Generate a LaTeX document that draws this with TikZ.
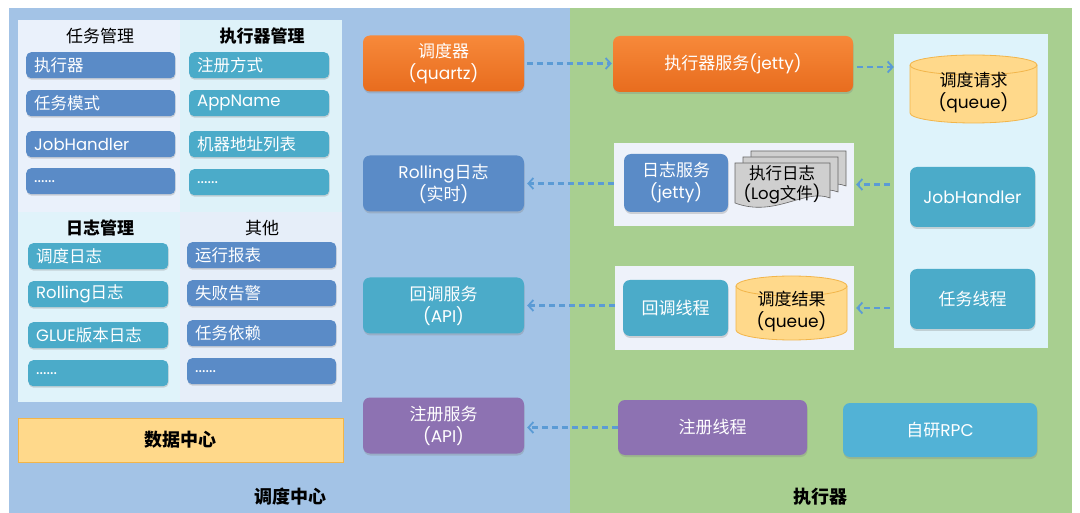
\documentclass[tikz,border=0pt]{standalone}
\usepackage{fontspec}
\setmainfont{Noto Sans CJK SC}
\newfontfamily\latfont{Poppins}
\newcommand\en[1]{{\latfont #1}}
\usetikzlibrary{arrows.meta,shadows}
\definecolor{panelblue}{HTML}{A3C3E6}
\definecolor{panelgreen}{HTML}{A8CF90}
\definecolor{qtl}{HTML}{EAF1FB}
\definecolor{qtr}{HTML}{DEF2F9}
\definecolor{qbl}{HTML}{E0F3FA}
\definecolor{qbr}{HTML}{E6EEF9}
\definecolor{cblue}{HTML}{5A8BC7}
\definecolor{cteal}{HTML}{4BABC9}
\definecolor{cteal2}{HTML}{52B2D6}
\definecolor{corangeT}{HTML}{F7893A}
\definecolor{corangeB}{HTML}{E86C1E}
\definecolor{cpurple}{HTML}{8D72B2}
\definecolor{cyel}{HTML}{FFD98B}
\definecolor{cyelb}{HTML}{F2B54A}
\definecolor{rpanel}{HTML}{DEF3FB}
\definecolor{grp}{HTML}{EEF2FA}
\definecolor{arr}{HTML}{5B9BD5}
\definecolor{docg}{HTML}{CFCFCF}
\newcommand\itm[6]{\node[item, fill=#5, text width=#4pt] (#1) at (#2,#3) {#6};}
\newcommand\cyl[6]{% name x1 x2 ytop ybot text
  \pgfmathsetmacro\rx{(#3-#2)/2}
  \filldraw[fill=cyel, draw=cyelb, line width=0.8pt] (#2,#4-10) -- (#2,#5+10)
    arc[start angle=180,end angle=360,x radius=\rx,y radius=10] -- (#3,#4-10)
    arc[start angle=0,end angle=180,x radius=\rx,y radius=10] -- cycle;
  \draw[cyelb, line width=0.8pt] (#2,#4-10) arc[start angle=180,end angle=360,x radius=\rx,y radius=10];
  \node[txt, text=black, minimum width=(#3-#2)*1pt, minimum height=(#4-#5)*1pt] (#1) at ({(#2+#3)/2},{(#4+#5)/2-4}) {#6};
}
\newcommand\docshape[2]{%
  \begin{scope}[shift={(#1,#2)}]
  \filldraw[fill=docg, draw=black!60, line width=0.6pt] (0,0) -- (95,0) -- (95,-35)
    .. controls (70,-25) and (40,-55) .. (0,-40) -- cycle;
  \end{scope}}
\begin{document}
\begin{tikzpicture}[x=1pt,y=1pt,
  txt/.style={align=center, font=\fontsize{17}{22}\selectfont},
  item/.style={anchor=north west, rounded corners=5pt, text=white, align=left,
    inner xsep=8pt, inner ysep=0pt, minimum height=26pt,
    font=\fontsize{16.5}{18}\selectfont,
    drop shadow={shadow xshift=0.5pt, shadow yshift=-1.5pt, opacity=0.3}},
  mbox/.style={txt, rounded corners=7pt, text=white, inner sep=0pt,
    drop shadow={shadow xshift=0.5pt, shadow yshift=-2pt, opacity=0.3}},
  obox/.style={mbox, top color=corangeT, bottom color=corangeB},
  ttl/.style={font=\fontsize{17}{19}\selectfont},
  darr/.style={arr, line width=2.2pt, dash pattern=on 6pt off 4pt,
    -{Straight Barb[length=5pt,width=11pt,line width=1.8pt]}},
]
\useasboundingbox (0,0) rectangle (1080,-513);
\fill[white] (0,0) rectangle (1080,-513);
\fill[panelblue] (9,-8) rectangle (570,-513);
\fill[panelgreen] (570,-8) rectangle (1072,-513);

% left management panel
\fill[qtl] (18,-20) rectangle (180,-212);
\fill[qtr] (180,-20) rectangle (342,-212);
\fill[qbl] (18,-212) rectangle (180,-402);
\fill[qbr] (180,-212) rectangle (342,-402);

\node[ttl] (t1) at (100,-36) {任务管理};
\node[ttl] (t2) at (262,-36) {\bfseries 执行器管理};
\node[ttl] (t3) at (100,-228) {\bfseries 日志管理};
\node[ttl] (t4) at (262,-228) {其他};

\itm{a1}{26}{-52}{133}{cblue}{执行器}
\itm{a2}{26}{-90}{133}{cblue}{任务模式}
\itm{a3}{26}{-131}{133}{cblue}{\en{JobHandler}}
\itm{a4}{26}{-168}{133}{cblue}{\en{......}}

\itm{b1}{189}{-52}{124}{cteal}{注册方式}
\itm{b2}{189}{-90}{124}{cteal}{\en{AppName}}
\itm{b3}{189}{-131}{124}{cteal}{机器地址列表}
\itm{b4}{189}{-169}{124}{cteal}{\en{......}}

\itm{c1}{28}{-243}{124}{cteal}{调度日志}
\itm{c2}{28}{-281}{124}{cteal}{\en{Rolling}日志}
\itm{c3}{28}{-322}{124}{cteal}{\en{GLUE}版本日志}
\itm{c4}{28}{-360}{124}{cteal}{\en{......}}

\itm{d1}{187}{-242}{133}{cblue}{运行报表}
\itm{d2}{187}{-280}{133}{cblue}{失败告警}
\itm{d3}{187}{-320}{133}{cblue}{任务依赖}
\itm{d4}{187}{-358}{133}{cblue}{\en{......}}

\node[txt, fill=cyel, draw=cyelb, line width=0.8pt, minimum width=325pt, minimum height=44pt,
  font=\fontsize{18}{20}\selectfont\bfseries] (dc) at (180.5,-440) {数据中心};

\node[font=\fontsize{18}{20}\selectfont\bfseries] (lab1) at (290,-497) {调度中心};
\node[font=\fontsize{18}{20}\selectfont\bfseries] (lab2) at (820,-497) {执行器};

% middle column
\node[obox, minimum width=161pt, minimum height=56pt] (sched) at (443.5,-63.5) {调度器\\\en{(quartz)}};
\node[mbox, fill=cblue, minimum width=161pt, minimum height=56pt] (roll) at (443.5,-183.5) {\en{Rolling}日志\\\en{(}实时\en{)}};
\node[mbox, fill=cteal, minimum width=161pt, minimum height=56pt] (cbs) at (443.5,-305.5) {回调服务\\\en{(API)}};
\node[mbox, fill=cpurple, minimum width=161pt, minimum height=56pt] (regs) at (443.5,-425.5) {注册服务\\\en{(API)}};

% executor side
\node[obox, minimum width=240pt, minimum height=56pt] (exe) at (733,-64) {执行器服务\en{(jetty)}};

\node[fill=rpanel, minimum width=154pt, minimum height=314pt, inner sep=0pt] (rp) at (971,-191) {};
\cyl{req}{910}{1037}{-55}{-123}{调度请求\\\en{(queue)}}
\node[mbox, fill=cteal, minimum width=125pt, minimum height=60pt] (jh) at (972.5,-197) {\en{JobHandler}};
\node[mbox, fill=cteal, minimum width=125pt, minimum height=60pt] (tt) at (972.5,-299) {任务线程};

\node[fill=grp, minimum width=240pt, minimum height=83pt, inner sep=0pt] (lg) at (734,-184.5) {};
\node[mbox, fill=cblue, minimum width=104pt, minimum height=58pt] (ls) at (676,-183) {日志服务\\\en{(jetty)}};
\docshape{751}{-151}
\docshape{743}{-157}
\docshape{735}{-163}
\node[txt, text=black, font=\fontsize{16.5}{20}\selectfont] (logf) at (782,-185) {执行日志\\\en{(Log}文件\en{)}};

\node[fill=grp, minimum width=239pt, minimum height=84pt, inner sep=0pt] (cg) at (734.5,-308) {};
\node[mbox, fill=cteal, minimum width=105pt, minimum height=56pt] (cbt) at (675.5,-308) {回调线程};
\cyl{res}{736}{847}{-276}{-340}{调度结果\\\en{(queue)}}

\node[mbox, fill=cpurple, minimum width=189pt, minimum height=55pt] (regt) at (712.5,-427.5) {注册线程};
\node[mbox, fill=cteal2, minimum width=194pt, minimum height=54pt] (rpc) at (940,-430) {自研\en{RPC}};

% connectors
\draw[darr] ([xshift=3pt]sched.east) -- ([xshift=-1pt]exe.west |- sched.east);
\draw[darr] ([xshift=4pt,yshift=-3pt]exe.east) -- ([yshift=-3pt]rp.west |- exe.east);
\draw[darr] ([xshift=-4pt]rp.west |- lg.east) -- ([xshift=2pt]lg.east);
\draw[darr] (lg.west |- roll.east) -- ([xshift=3pt]roll.east);
\draw[darr] ([xshift=-4pt]rp.west |- cg.east) -- ([xshift=2pt]cg.east);
\draw[darr] (cg.west |- cbs.east) -- ([xshift=3pt]cbs.east);
\draw[darr] (regt.west) -- ([xshift=3pt]regs.east |- regt.west);
\end{tikzpicture}
\end{document}
